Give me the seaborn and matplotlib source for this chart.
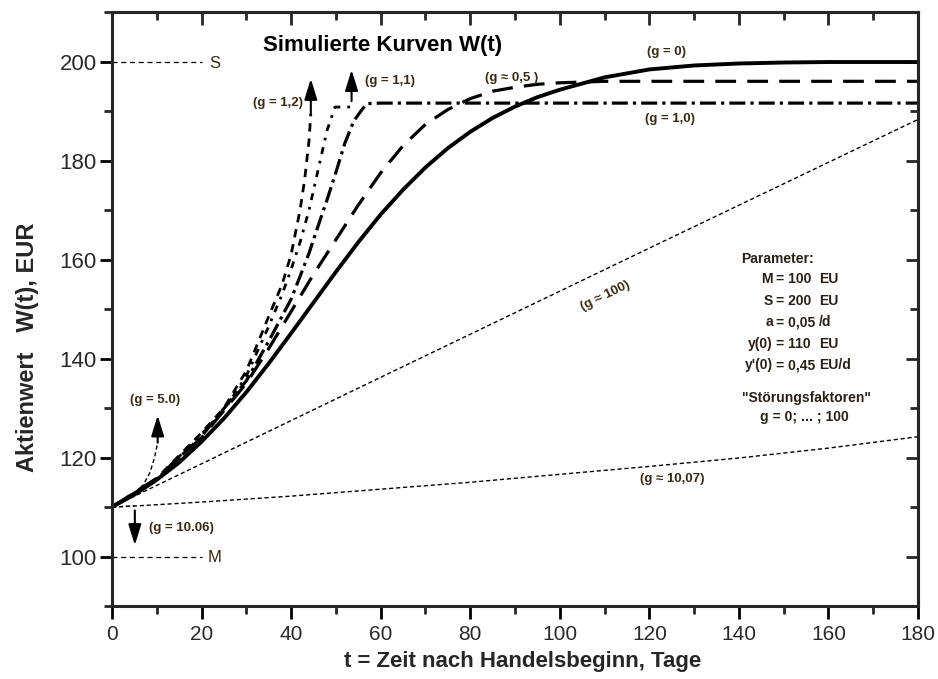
import matplotlib
matplotlib.use("Agg")
import matplotlib.pyplot as plt
from matplotlib import font_manager
import seaborn as sns

# Kurven W(t) fuer verschiedene Stoerungsfaktoren g
t_g0 = [0, 5, 10, 15, 20, 25, 30, 35, 40, 45, 50, 55, 60, 65, 70, 75, 80, 85,
        90, 95, 100, 110, 120, 130, 140, 150, 160, 170, 180]
w_g0 = [110.0, 112.5, 115.5, 119.0, 123.2, 127.9, 133.2, 139.0, 145.1, 151.3,
        157.5, 163.5, 169.1, 174.1, 178.6, 182.5, 185.8, 188.6, 190.9, 192.8,
        194.3, 196.8, 198.4, 199.2, 199.6, 199.8, 199.9, 199.9, 199.9]

t_g05 = [0, 10, 20, 30, 35, 40, 45, 50, 55, 60, 65, 70, 75, 80, 85, 90, 95,
         100, 110, 120, 180]
w_g05 = [110, 115.8, 124.0, 135.0, 142.0, 149.5, 157.0, 164.0, 171.0, 177.5,
         183.0, 187.3, 190.3, 192.5, 194.0, 194.8, 195.4, 195.7, 196.0, 196.0,
         196.0]

t_g10 = [0, 10, 20, 30, 35, 40, 42, 44, 46, 48, 50, 52, 54, 56, 57, 60, 180]
w_g10 = [110, 115.6, 124.3, 135.5, 143.5, 152.0, 156.6, 161.3, 166.7, 172.0,
         177.6, 183.5, 188.0, 190.5, 191.5, 191.6, 191.6]

t_g11 = [0, 10, 20, 25, 30, 35, 38, 40, 42, 44, 46, 48, 49.8, 53.5]
w_g11 = [110, 115.7, 124.7, 129.5, 136.5, 146.5, 153.0, 158.0, 163.5, 170.0,
         178.0, 186.0, 190.8, 190.8]

t_g12 = [0, 10, 20, 25, 30, 35, 38, 40, 42, 43, 44, 44.4]
w_g12 = [110, 115.8, 125.0, 130.0, 137.5, 148.5, 155.0, 161.0, 170.0, 176.0,
         184.0, 189.5]

t_g5 = [0, 5, 7, 8.5, 9.5, 10.2]
w_g5 = [110, 112.8, 114.5, 117.0, 120.0, 123.0]

t_g100 = [0, 60, 120, 180]
w_g100 = [110, 136.2, 162.3, 188.3]

t_g1007 = [0, 5, 20, 40, 60, 80, 100, 120, 140, 160, 180]
w_g1007 = [110, 110.2, 111.0, 112.2, 113.6, 115.0, 116.6, 118.2, 119.9, 121.9,
           124.2]

t_g1006 = [0, 5.1]
w_g1006 = [110, 110.2]

# Pfeile: (t, W Start, W Spitze)
arrows = [(44.4, 189.5, 196.5), (53.5, 192.0, 198.3), (10.2, 123.0, 128.5),
          (5.1, 109.3, 102.3)]

params = [("M", "= 100", "EU"), ("S", "= 200", "EU"), ("a", "= 0,05", "/d"),
          ("y(0)", "= 110", "EU"), ("y'(0)", "= 0,45", "EU/d")]

sns.set_style("ticks")
names = {f.name for f in font_manager.fontManager.ttflist}
narrow = "Liberation Sans Narrow" if "Liberation Sans Narrow" in names else "Liberation Sans"
plt.rcParams["font.family"] = ["Liberation Sans", "DejaVu Sans"]

fig = plt.figure(figsize=(9.38, 6.79), dpi=100)
ax = fig.add_axes([0.1194, 0.1075, 0.8593, 0.8748])


def curve(t, w, lw, ls):
    sns.lineplot(x=t, y=w, ax=ax, color="black", lw=lw, linestyle=ls,
                 sort=False, estimator=None)


curve(t_g100, w_g100, 1.0, (0, (3, 2)))
curve(t_g1007, w_g1007, 1.0, (0, (3, 2)))
curve(t_g1006, w_g1006, 1.0, (0, (3, 2)))
curve(t_g5, w_g5, 1.0, (0, (3, 2)))
curve(t_g12, w_g12, 2.0, (0, (3, 2.5)))
curve(t_g11, w_g11, 2.0, (0, (2.5, 2.5, 1, 2.5)))
curve(t_g10, w_g10, 2.3, (0, (5, 1.6, 1, 1.6)))
curve(t_g05, w_g05, 2.3, (0, (6.5, 3.5)))
curve(t_g0, w_g0, 2.8, "-")

# S- und M-Linien
curve([0, 20], [200, 200], 0.9, (0, (4, 3)))
curve([0, 20], [100, 100], 0.9, (0, (4, 3)))
ax.text(23, 199.6, "S", ha="center", va="center", fontsize=12, color="#3a2a14")
ax.text(23, 99.8, "M", ha="center", va="center", fontsize=12, color="#3a2a14")

for t, w0, w1 in arrows:
    ax.annotate("", xy=(t, w1), xytext=(t, w0),
                arrowprops=dict(arrowstyle="-|>,head_length=0.9,head_width=0.28",
                                color="black", lw=1.5, mutation_scale=14,
                                shrinkA=0, shrinkB=0))

lab = dict(fontsize=9.5, fontweight="bold", color="#3a2a14", va="center")
ax.text(42.7, 191.7, "(g = 1,2)", ha="right", **lab)
ax.text(56.5, 196.1, "(g = 1,1)", ha="left", **lab)
ax.text(89.3, 196.6, "(g ≈ 0,5 )", ha="center", **lab)
ax.text(123.8, 201.9, "(g = 0)", ha="center", **lab)
ax.text(124.6, 188.4, "(g = 1,0)", ha="center", **lab)
ax.text(110.1, 152.7, "(g ≈ 100)", ha="center", rotation=26, **lab)
ax.text(125.2, 115.6, "(g ≈ 10,07)", ha="center", **lab)
ax.text(9.6, 131.7, "(g = 5.0)", ha="center", **lab)
ax.text(15.6, 105.8, "(g = 10.06)", ha="center", **lab)

ax.text(60.5, 203.2, "Simulierte Kurven W(t)", ha="center", va="center",
        fontsize=16, fontweight="bold", color="black")

# Parameterblock
pk = dict(fontsize=10, fontweight="bold", color="#2a2016", va="center")
ax.text(148.6, 160.2, "Parameter:", ha="center", **pk)
rows = [156.0, 151.7, 147.3, 143.0, 138.6]
for (n, v, u), w in zip(params, rows):
    ax.text(147.6, w, n, ha="right", **pk)
    ax.text(148.3, w, v, ha="left", **pk)
    ax.text(157.9, w, u, ha="left", **pk)
ax.text(155.0, 132.1, '"Störungsfaktoren"', ha="center", **pk)
ax.text(154.6, 128.1, "g = 0; ... ; 100", ha="center", **pk)

# Achsen
ax.set_xlim(0, 180)
ax.set_ylim(90, 210)
ax.set_xticks(range(0, 181, 20))
ax.set_xticks(range(10, 180, 20), minor=True)
ax.set_yticks(range(100, 201, 20))
ax.set_yticks(range(90, 211, 20), minor=True)
for s in ax.spines.values():
    s.set_visible(True)
    s.set_linewidth(2.2)
ax.tick_params(which="major", direction="out", length=9, width=2,
               colors="black", labelcolor="#2a2a2a")
ax.tick_params(which="minor", direction="out", length=6, width=2)
ax.tick_params(axis="y", labelsize=16, pad=2)
ax.tick_params(axis="x", labelsize=15, pad=5)
for lbl in ax.get_xticklabels():
    lbl.set_fontfamily([narrow, "DejaVu Sans"])

top = ax.secondary_xaxis("top")
top.set_xticks(range(0, 181, 20))
top.set_xticks(range(10, 180, 20), minor=True)
top.set_xticklabels([])
top.tick_params(which="major", direction="in", length=9, width=2)
top.tick_params(which="minor", direction="in", length=6, width=2)
top.spines["top"].set_linewidth(2.2)

right = ax.secondary_yaxis("right")
right.set_yticks(range(100, 201, 20))
right.set_yticks(range(90, 211, 20), minor=True)
right.set_yticklabels([])
right.tick_params(which="major", direction="in", length=9, width=2)
right.tick_params(which="minor", direction="in", length=6, width=2)
right.spines["right"].set_linewidth(2.2)

ax.set_xlabel("t = Zeit nach Handelsbeginn, Tage", fontsize=16,
              fontweight="bold", family=[narrow, "DejaVu Sans"])
ax.xaxis.set_label_coords(0.509, -0.075)
ax.set_ylabel("Aktienwert   W(t), EUR", fontsize=17, fontweight="bold",
              family=[narrow, "DejaVu Sans"])
ax.yaxis.set_label_coords(-0.09, 0.436)

fig.savefig("out.png", dpi=100)
